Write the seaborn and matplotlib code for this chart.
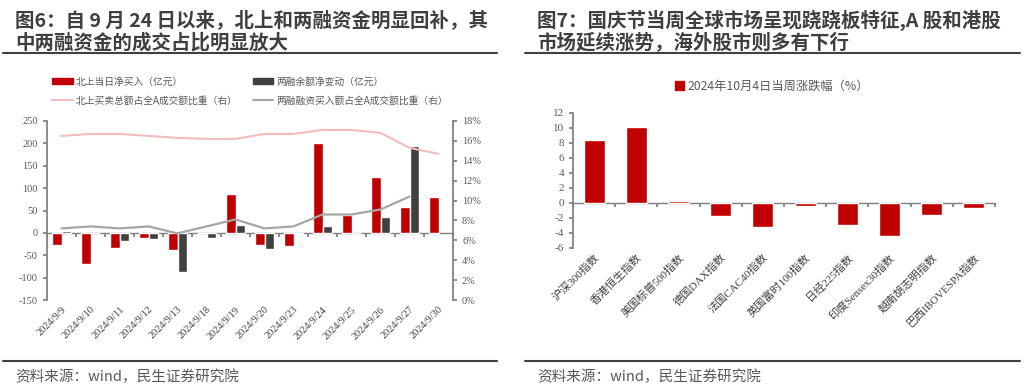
import numpy as np
import pandas as pd
import matplotlib
matplotlib.use("Agg")
import matplotlib.pyplot as plt
import seaborn as sns
from matplotlib.lines import Line2D
from matplotlib.patches import Patch
from matplotlib.ticker import FuncFormatter

sns.set_theme(style="white")
plt.rcParams['font.family'] = ['Noto Sans CJK SC', 'DejaVu Sans']
plt.rcParams['axes.unicode_minus'] = False

# ── Dữ liệu: hình 6 ─────────────────────────────────────
dates = ["2024/9/9", "2024/9/10", "2024/9/11", "2024/9/12", "2024/9/13",
         "2024/9/18", "2024/9/19", "2024/9/20", "2024/9/23", "2024/9/24",
         "2024/9/25", "2024/9/26", "2024/9/27", "2024/9/30"]
north_net = [-28, -70, -33, -11, -39, 0, 87, -28, -30, 201, 39, 124, 58, 81]
margin_chg = [4, 0, -18, -13, -87, -12, 18, -36, -3, 16, -1, 35, 195, np.nan]
north_ratio = [16.5, 16.7, 16.7, 16.5, 16.3, 16.2, 16.2, 16.7, 16.7, 17.1,
               17.1, 16.8, 15.3, 14.7]
margin_ratio = [7.2, 7.4, 7.2, 7.4, 6.7, 7.4, 8.1, 7.2, 7.4, 8.6, 8.6, 9.1,
                10.4, np.nan]
s_north = "北上当日净买入（亿元）"
s_margin = "两融余额净变动（亿元）"
l_north = "北上买卖总额占全A成交额比重（右）"
l_margin = "两融融资买入额占全A成交额比重（右）"

# ── Dữ liệu: hình 7 ─────────────────────────────────────
markets = ["沪深300指数", "香港恒生指数", "美国标普500指数", "德国DAX指数",
           "法国CAC40指数", "英国富时100指数", "日经225指数", "印度Sensex30指数",
           "越南胡志明指数", "巴西IBOVESPA指数"]
week_chg = [8.4, 10.1, 0.2, -1.8, -3.2, -0.5, -3.0, -4.5, -1.6, -0.7]
s_week = "2024年10月4日当周涨跌幅（%）"

RED = "#C00000"
DARK = "#404040"
PINK = "#F2BDBD"
LGRAY = "#A6A6A6"
AX = "#7F7F7F"
TXT = "#595959"
XTXT = "#404040"
SERIF = ['Liberation Serif', 'Noto Sans CJK SC']

fig = plt.figure(figsize=(10.24, 3.92), dpi=100)

# ── Tiêu đề, đường kẻ, nguồn ────────────────────────────
titles = [(15, ["图6：自 9 月 24 日以来，北上和两融资金明显回补，其",
                "中两融资金的成交占比明显放大"]),
          (537, ["图7：国庆节当周全球市场呈现跷跷板特征,A 股和港股",
                 "市场延续涨势，海外股市则多有下行"])]
for x0, lines in titles:
    for k, t in enumerate(lines):
        fig.text(x0 / 1024, 1 - (20 + 23 * k) / 392, t, fontsize=14,
                 fontweight="bold", color="#3F3F3F", va="center", ha="left")
    fig.text(x0 / 1024, 1 - 377 / 392, "资料来源：wind，民生证券研究院",
             fontsize=10.5, color=TXT, va="center", ha="left")
for xa, xb in [(3, 497), (525, 1020)]:
    for yy in (53, 361):
        fig.add_artist(Line2D([xa / 1024, xb / 1024], [1 - yy / 392] * 2,
                              transform=fig.transFigure, color="#404040", lw=1.5))


def style_axis(ax, lo, hi, n):
    ax.set_xlim(-0.5, n - 0.5)
    ax.set_ylim(lo, hi)
    for s in ["top", "right", "bottom"]:
        ax.spines[s].set_visible(False)
    ax.spines["left"].set_color(AX)
    ax.tick_params(axis="y", direction="out", length=3, color=AX,
                   labelcolor=TXT, left=True)
    ax.tick_params(axis="x", length=0, labelcolor=XTXT)
    for lab in ax.get_yticklabels():
        lab.set_family(SERIF)
    ax.set_xlabel("")
    ax.set_ylabel("")
    # trục ngang tại 0
    sec = ax.secondary_xaxis((0 - lo) / (hi - lo))
    sec.set_xticks(np.arange(n + 1) - 0.5)
    sec.tick_params(direction="out", length=3, color=AX, labelbottom=False)
    sec.spines["bottom"].set_color(AX)
    sec.spines["bottom"].set_linewidth(1.0)


# ── Hình 6 ──────────────────────────────────────────────
n1 = len(dates)
ax1 = fig.add_axes([47 / 1024, 1 - 300 / 392, 406 / 1024, 179 / 392])
df1 = pd.DataFrame({
    "date": dates * 2,
    "series": [s_north] * n1 + [s_margin] * n1,
    "value": north_net + margin_chg,
})
sns.barplot(data=df1, x="date", y="value", hue="series", palette=[RED, DARK],
            width=0.66, saturation=1, errorbar=None, legend=False, ax=ax1)
ax1.set_yticks(np.arange(-150, 251, 50))
ax1.set_xticks(np.arange(n1))
ax1.set_xticklabels(dates, rotation=45, ha="right", rotation_mode="anchor",
                    fontsize=7.5, family=SERIF)
ax1.tick_params(axis="y", labelsize=7.5)
style_axis(ax1, -150, 250, n1)

ax2 = ax1.twinx()
sns.lineplot(x=np.arange(n1), y=north_ratio, color=PINK, lw=1.5, ax=ax2)
sns.lineplot(x=np.arange(n1), y=margin_ratio, color=LGRAY, lw=1.6, ax=ax2)
ax2.set_ylim(0, 18)
ax2.set_yticks(np.arange(0, 19, 2))
ax2.yaxis.set_major_formatter(FuncFormatter(lambda v, p: f"{v:.0f}%"))
for s in ["top", "left", "bottom"]:
    ax2.spines[s].set_visible(False)
ax2.spines["right"].set_color(AX)
ax2.tick_params(axis="y", direction="out", length=3, color=AX, labelcolor=TXT,
                labelsize=7.5, right=True)
for lab in ax2.get_yticklabels():
    lab.set_family(SERIF)
ax2.set_xlim(-0.5, n1 - 0.5)
ax2.set_xlabel("")
ax2.set_ylabel("")

# legend điền theo cột: [hàng1 cột1, hàng2 cột1, hàng1 cột2, hàng2 cột2]
handles1 = [Patch(color=RED), Line2D([], [], color=PINK, lw=1.5),
            Patch(color=DARK), Line2D([], [], color=LGRAY, lw=1.6)]
fig.legend(handles1, [s_north, l_north, s_margin, l_margin], ncol=2,
           loc="center", bbox_to_anchor=(250 / 1024, 1 - 91 / 392),
           frameon=False, fontsize=7, labelcolor=TXT, handlelength=2.1,
           handleheight=0.6, handletextpad=0.3, columnspacing=1.6,
           labelspacing=0.9)

# ── Hình 7 ──────────────────────────────────────────────
n2 = len(markets)
ax3 = fig.add_axes([573 / 1024, 1 - 247.5 / 392, 422 / 1024, 134.5 / 392])
sns.barplot(x=markets, y=week_chg, color=RED, width=0.5, saturation=1,
            errorbar=None, ax=ax3)
ax3.set_yticks(np.arange(-6, 13, 2))
ax3.set_xticks(np.arange(n2))
ax3.set_xticklabels(markets, rotation=45, ha="right", rotation_mode="anchor",
                    fontsize=8, family=SERIF)
ax3.tick_params(axis="y", labelsize=8)
style_axis(ax3, -6, 12, n2)

fig.legend([Patch(color=RED)], [s_week], loc="center",
           bbox_to_anchor=(772 / 1024, 1 - 86 / 392), frameon=False,
           fontsize=8.8, labelcolor=TXT, handlelength=0.7, handleheight=0.7,
           handletextpad=0.3)

fig.savefig("out.png", dpi=100)
